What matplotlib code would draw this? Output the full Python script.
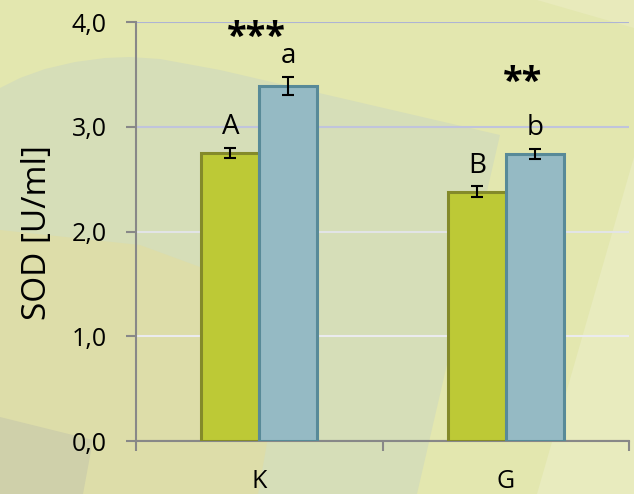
import matplotlib
matplotlib.use("Agg")
import matplotlib.pyplot as plt
from matplotlib.patches import Polygon
import numpy as np

plt.rcParams["font.family"] = ["Open Sans", "DejaVu Sans"]

# ---- data ----
groups = ["K", "G"]
sod_green = [2.75, 2.38]
sod_blue = [3.39, 2.74]
err_green = [0.05, 0.05]
err_blue = [0.085, 0.05]
letters_green = ["A", "B"]
letters_blue = ["a", "b"]
stars = ["***", "**"]
yticks = [0.0, 1.0, 2.0, 3.0, 4.0]

C_GREEN, E_GREEN = "#BDC936", "#848A2A"
C_BLUE, E_BLUE = "#95BAC4", "#588A98"
AX_GREY = "#888888"

W, H = 634, 494
fig = plt.figure(figsize=(W / 100, H / 100), dpi=100)

# ---- slide-style background (pixel coords) ----
bg = fig.add_axes([0, 0, 1, 1], zorder=-10)
bg.set_xlim(0, W); bg.set_ylim(H, 0); bg.axis("off")
bg.add_patch(Polygon([(0, 0), (W, 0), (W, H), (0, H)], color="#E3E7AF", lw=0))
bg.add_patch(Polygon([(537, 0), (W, 0), (W, 28)], color="#E8EABB", lw=0))
bg.add_patch(Polygon([(W, 157), (537, H), (W, H)], color="#E8EBBE", lw=0))
bg.add_patch(Polygon([(0, 88), (20, 78), (45, 69), (75, 62), (105, 58), (130, 57),
                      (160, 59), (220, 70), (500, 135), (417, H), (0, H)],
                     color="#D6DEB8", lw=0))
bg.add_patch(Polygon([(0, 230), (140, 245), (200, 267), (250, 300), (272, 420),
                      (267, 443), (258, H), (0, H)], color="#DDDDA9", lw=0))
bg.add_patch(Polygon([(0, 417), (93, 440), (83, H), (0, H)], color="#CFD0AA", lw=0))

# ---- bar chart ----
ax = fig.add_axes([136 / W, 1 - 441 / H, 493 / W, 419 / H])
ax.patch.set_alpha(0)
x = np.arange(len(groups))
w = 0.235
ax.bar(x - w / 2, sod_green, w, color=C_GREEN, edgecolor=E_GREEN, linewidth=2.2, zorder=3)
ax.bar(x + w / 2, sod_blue, w, color=C_BLUE, edgecolor=E_BLUE, linewidth=2.2, zorder=3)
ax.errorbar(x - w / 2, sod_green, yerr=err_green, fmt="none", ecolor="black",
            elinewidth=1.5, capsize=4, capthick=1.5, zorder=4)
ax.errorbar(x + w / 2, sod_blue, yerr=err_blue, fmt="none", ecolor="black",
            elinewidth=1.5, capsize=4, capthick=1.5, zorder=4)

# significance letters just above each error bar
gap = 0.13
for i in range(len(groups)):
    ax.text(x[i] - w / 2, sod_green[i] + err_green[i] + gap, letters_green[i],
            ha="center", va="baseline", fontsize=20)
    ax.text(x[i] + w / 2, sod_blue[i] + err_blue[i] + gap, letters_blue[i],
            ha="center", va="baseline", fontsize=20)
ax.text(x[0] - 0.01, 3.85, stars[0], ha="center", va="center", fontsize=26, fontweight="bold")
ax.text(x[1] + 0.07, 3.42, stars[1], ha="center", va="center", fontsize=26, fontweight="bold")

ax.set_xlim(-0.5, 1.5)
ax.set_ylim(0, 4)
ax.set_yticks(yticks)
ax.set_yticklabels([f"{v:.1f}".replace(".", ",") for v in yticks])
ax.set_xticks(x)
ax.set_xticklabels(groups)
ax.set_xticks([-0.5, 0.5, 1.5], minor=True)
ax.tick_params(axis="x", which="major", length=0, pad=20, labelsize=18)
ax.tick_params(axis="x", which="minor", length=7, width=1.5, color=AX_GREY, direction="out")
ax.tick_params(axis="y", length=7, width=1.5, color=AX_GREY, pad=14, labelsize=18)

for s in ["top", "right"]:
    ax.spines[s].set_visible(False)
for s in ["left", "bottom"]:
    ax.spines[s].set_color(AX_GREY)
    ax.spines[s].set_linewidth(1.5)

ax.yaxis.grid(True, linewidth=1.5, zorder=0)
ax.set_axisbelow(True)
for line, c in zip(ax.get_ygridlines(), ["#888888", "#EBEBEE", "#E2E4E6", "#C0C4DC", "#AEB4D4"]):
    line.set_color(c)

fig.text(38 / W, 1 - 232.5 / H, "SOD [U/ml]", rotation=90, ha="center", va="center", fontsize=24)

fig.savefig("out.png", dpi=100)
